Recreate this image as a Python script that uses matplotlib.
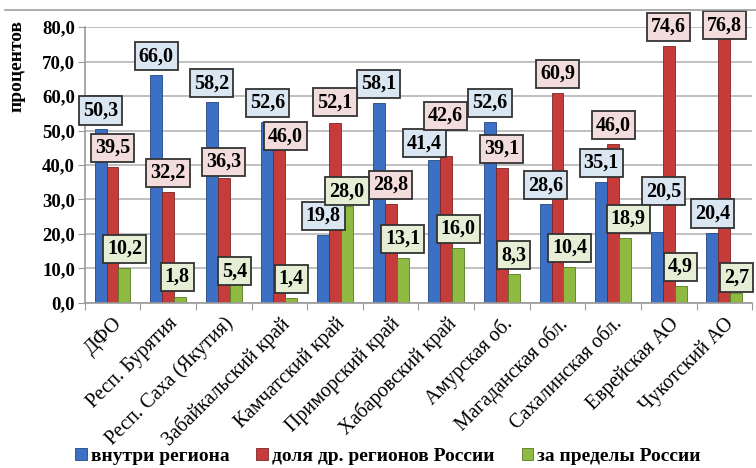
import numpy as np
import matplotlib.pyplot as plt
from matplotlib.lines import Line2D

regions = ["ДФО", "Респ. Бурятия", "Респ. Саха (Якутия)", "Забайкальский край",
           "Камчатский край", "Приморский край", "Хабаровский край", "Амурская об.",
           "Магаданская обл.", "Сахалинская обл.", "Еврейская АО", "Чукотский АО"]
inside = [50.3, 66.0, 58.2, 52.6, 19.8, 58.1, 41.4, 52.6, 28.6, 35.1, 20.5, 20.4]
other_regions = [39.5, 32.2, 36.3, 46.0, 52.1, 28.8, 42.6, 39.1, 60.9, 46.0, 74.6, 76.8]
abroad = [10.2, 1.8, 5.4, 1.4, 28.0, 13.1, 16.0, 8.3, 10.4, 18.9, 4.9, 2.7]
series_names = ["внутри региона", "доля др. регионов России", "за пределы России"]

bar_colors = ["#3b70c4", "#c63c3a", "#8fba42"]
edge_colors = ["#23467f", "#7e2422", "#5a7a25"]
box_colors = ["#dbe6f3", "#f3dcdc", "#e6efd6"]

# label offsets in pixels (series, category) -> (dx, dy); default (0, 19)
label_shift = {(1, 2): (0, 16), (2, 2): (-1, 13), (1, 3): (6, 8), (1, 4): (0, 21),
               (2, 4): (0, 15), (0, 6): (-10, 17), (1, 6): (-1, 40), (0, 10): (7, 41),
               (1, 11): (0, 13), (2, 11): (0, 16), (2, 1): (-3, 20), (2, 9): (3, 19)}

plt.rcParams['font.family'] = ['Liberation Serif', 'DejaVu Serif']

fig = plt.figure(figsize=(7.56, 4.68), dpi=100)
ax = fig.add_axes([0.112, 0.353, 0.883, 0.589])

x = np.arange(len(regions))
w = 0.215
handles = []
for i, vals in enumerate([inside, other_regions, abroad]):
    pos = x + (i - 1) * w
    b = ax.bar(pos, vals, w, color=bar_colors[i], edgecolor=edge_colors[i],
               linewidth=0.6, zorder=2, label=series_names[i])
    handles.append(b)
    for j, (xp, v) in enumerate(zip(pos, vals)):
        dx, dy = label_shift.get((i, j), (0, 19))
        ax.annotate(f"{v:.1f}".replace(".", ","), (xp, v), xytext=(dx, dy),
                    textcoords="offset pixels",
                    ha="center", va="center", fontsize=14.5, fontweight="bold",
                    zorder=5, annotation_clip=False,
                    bbox=dict(boxstyle="square,pad=0.2", fc=box_colors[i],
                              ec="#333333", lw=1.3))

ax.set_xlim(-0.5, len(regions) - 0.5)
ax.set_ylim(0, 80)
ax.set_yticks(np.arange(0, 81, 10))
ax.set_yticklabels([f"{t:.1f}".replace(".", ",") for t in np.arange(0, 81, 10)],
                   fontsize=13.5, fontweight="bold")
ax.yaxis.grid(True, color="#b5b5b5", linewidth=1.2, zorder=0)
ax.set_axisbelow(True)
ax.set_ylabel("процентов", fontsize=14, fontweight="bold")
ax.yaxis.set_label_coords(-0.088, 0.86)

ax.set_xticks(np.arange(-0.5, len(regions), 1.0))
ax.set_xticklabels([])
ax.set_xticks(x, minor=True)
ax.set_xticklabels(regions, minor=True, rotation=45, ha="right",
                   rotation_mode="anchor", fontsize=14.5)
ax.tick_params(axis="x", which="minor", length=0, pad=8)
ax.tick_params(axis="x", which="major", length=5, color="#999999", direction="out")
ax.tick_params(axis="y", length=5, color="#999999", pad=2)

for s in ["top", "right"]:
    ax.spines[s].set_visible(False)
for s in ["left", "bottom"]:
    ax.spines[s].set_color("#999999")
    ax.spines[s].set_linewidth(1.2)

fig.add_artist(Line2D([0.007, 1.0], [0.979, 0.979], color="#a0a0a0", lw=1.2))

fig.legend(handles=handles, loc="lower center", bbox_to_anchor=(0.513, -0.03), ncol=3,
           frameon=False, prop={"weight": "bold", "size": 14},
           handlelength=0.6, handleheight=0.6, handletextpad=0.2, columnspacing=1.4)

fig.savefig("out.png", dpi=100)
